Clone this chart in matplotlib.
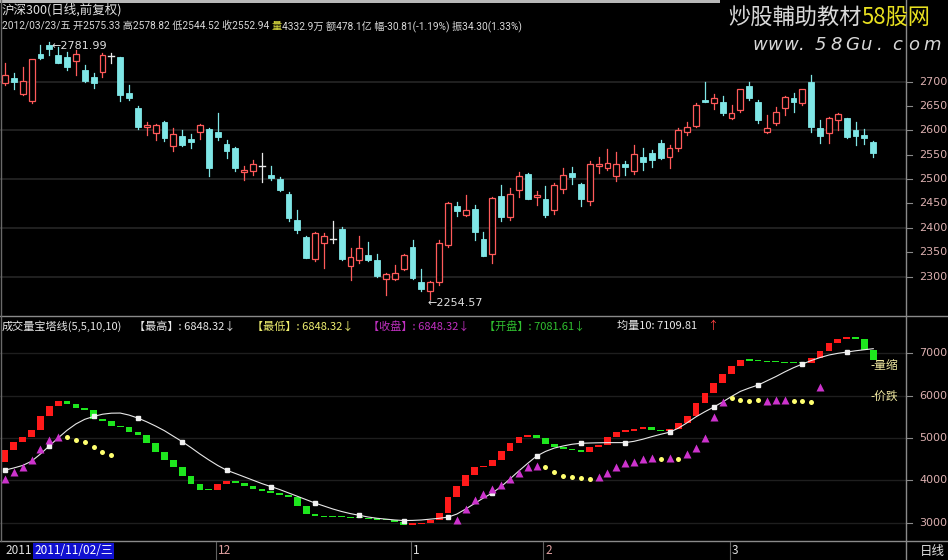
import numpy as np
import matplotlib.pyplot as plt
from matplotlib.patches import Rectangle
from matplotlib.lines import Line2D

plt.rcParams['font.family'] = ['Noto Sans CJK SC', 'DejaVu Sans']

W_PX, H_PX = 948, 560

# --- price candles: 沪深300 日线 ---
opens = [2698, 2708, 2675, 2660, 2757, 2775, 2755, 2750, 2743, 2725,
         2709, 2720, 2753, 2750, 2677, 2647, 2608, 2594, 2617, 2567,
         2588, 2582, 2597, 2603, 2597, 2572, 2563, 2515, 2517, 2527,
         2508, 2500, 2469, 2416, 2382, 2335, 2368, 2376, 2397, 2322,
         2334, 2344, 2333, 2294, 2294, 2316, 2360, 2288, 2271, 2288,
         2365, 2445, 2426, 2438, 2377, 2346, 2465, 2423, 2478, 2510,
         2463, 2459, 2437, 2479, 2512, 2490, 2456, 2526, 2522, 2506,
         2530, 2517, 2546, 2553, 2575, 2546, 2563, 2597, 2609, 2662,
         2656, 2659, 2625, 2642, 2691, 2658, 2597, 2615, 2647, 2666,
         2657, 2700, 2604, 2594, 2621, 2625, 2601, 2591, 2575.33]
highs = [2738, 2717, 2731, 2746, 2775, 2781.99, 2772, 2762, 2765, 2734,
         2717, 2758, 2758, 2751, 2693, 2650, 2618, 2614, 2620, 2604,
         2601, 2593, 2614, 2604, 2636, 2580, 2565, 2527, 2539, 2553,
         2526, 2505, 2473, 2437, 2383, 2392, 2389, 2413, 2402, 2358,
         2383, 2370, 2346, 2308, 2324, 2346, 2374, 2315, 2290, 2375,
         2452, 2454, 2467, 2447, 2392, 2464, 2488, 2481, 2515, 2512,
         2476, 2485, 2491, 2522, 2524, 2491, 2538, 2545, 2562, 2555,
         2538, 2570, 2563, 2560, 2580, 2570, 2604, 2618, 2656, 2700,
         2675, 2671, 2652, 2686, 2700, 2662, 2632, 2649, 2671, 2676,
         2686, 2714, 2621, 2628, 2636, 2626, 2618, 2602, 2578.82]
lows = [2693, 2684, 2673, 2657, 2746, 2755, 2738, 2725, 2714, 2700,
        2688, 2710, 2738, 2661, 2662, 2602, 2591, 2580, 2578, 2558,
        2567, 2563, 2582, 2507, 2580, 2543, 2517, 2498, 2508, 2495,
        2498, 2476, 2413, 2390, 2337, 2331, 2317, 2368, 2334, 2293,
        2327, 2331, 2298, 2262, 2292, 2313, 2294, 2271, 2254.57, 2283,
        2361, 2424, 2424, 2375, 2342, 2327, 2413, 2415, 2463, 2459,
        2447, 2423, 2429, 2471, 2490, 2444, 2447, 2512, 2519, 2496,
        2509, 2511, 2519, 2524, 2541, 2522, 2558, 2591, 2606, 2659,
        2643, 2632, 2623, 2638, 2662, 2616, 2595, 2611, 2632, 2638,
        2652, 2597, 2575, 2575, 2601, 2584, 2570, 2572, 2544.52]
closes = [2714, 2700, 2702, 2746, 2748, 2768, 2739, 2731, 2757, 2702,
          2698, 2755, 2753, 2673, 2666, 2608, 2611, 2612, 2584, 2592,
          2570, 2577, 2612, 2522, 2586, 2558, 2522, 2519, 2531, 2527,
          2503, 2478, 2420, 2396, 2339, 2389, 2383, 2376, 2336, 2340,
          2358, 2333, 2301, 2305, 2308, 2344, 2296, 2274, 2288, 2368,
          2450, 2435, 2437, 2392, 2343, 2462, 2422, 2470, 2506, 2460,
          2467, 2426, 2488, 2508, 2505, 2459, 2531, 2530, 2534, 2532,
          2524, 2551, 2536, 2539, 2543, 2563, 2601, 2608, 2652, 2659,
          2666, 2636, 2635, 2684, 2666, 2621, 2604, 2638, 2668, 2659,
          2684, 2606, 2589, 2626, 2633, 2586, 2589, 2585, 2552.94]

# --- 成交量宝塔线 panel ---
tower_start = 4436
tower = [4714, 4912, 5032, 5190, 5524, 5762, 5865, 5800, 5706, 5651,
         5444, 5389, 5286, 5260, 5151, 5071, 4889, 4674, 4476, 4301,
         4095, 3920, 3777, 3760, 3920, 3983, 3936, 3856, 3800, 3740,
         3690, 3640, 3600, 3400, 3200, 3150, 3140, 3130, 3120, 3110,
         3100, 3090, 3070, 3060, 3008, 2952, 2970, 3000, 3063, 3222,
         3603, 3857, 4119, 4301, 4333, 4476, 4698, 4873, 5016, 5071,
         4992, 4857, 4778, 4730, 4715, 4675, 4794, 4833, 5016, 5151,
         5175, 5206, 5254, 5190, 5170, 5200, 5349, 5524, 5825, 6060,
         6300, 6500, 6700, 6850, 6830, 6810, 6800, 6790, 6780, 6770,
         6760, 6900, 7050, 7250, 7350, 7380, 7340, 7081.61, 6848.32]
vol_ma10 = [4238, 4290, 4350, 4450, 4620, 4810, 5000, 5180, 5330, 5440,
            5507, 5560, 5585, 5588, 5540, 5469, 5380, 5280, 5170, 5040,
            4912, 4770, 4620, 4480, 4350, 4238, 4160, 4080, 4000, 3920,
            3850, 3780, 3700, 3620, 3540, 3460, 3390, 3320, 3260, 3210,
            3170, 3130, 3100, 3080, 3060, 3047, 3050, 3060, 3080, 3100,
            3127, 3200, 3320, 3450, 3580, 3698, 3850, 4030, 4220, 4400,
            4571, 4680, 4760, 4810, 4850, 4873, 4880, 4885, 4888, 4889,
            4889, 4920, 4970, 5030, 5085, 5135, 5230, 5360, 5500, 5620,
            5730, 5850, 5980, 6100, 6180, 6250, 6350, 6450, 6560, 6660,
            6747, 6830, 6900, 6960, 7000, 7030, 7060, 7085, 7109.81]
nan = np.nan
price_tower = [4040, 4198, 4317, 4476, 4730, 4952, 5031, 5016, 4952, 4897,
               4778, 4674, 4588] + [nan] * 38 + [
               3050, 3325, 3524, 3682, 3802, 3881, 4040, 4175, 4302, 4333,
               4302, 4183, 4103, 4079, 4063, 4032, 4079, 4175, 4302, 4397,
               4437, 4492, 4516, 4492, 4516, 4492, 4619, 4754, 4992, 5500,
               5850, 5950, 5900, 5880, 5900, 5880, 5900, 5900, 5880, 5870,
               5860, 6200] + [nan] * 6
price_up = [1, 1, 1, 1, 1, 1, 1, 0, 0, 0, 0, 0, 0] + [0] * 38 + [
            1, 1, 1, 1, 1, 1, 1, 1, 1, 1,
            0, 0, 0, 0, 0, 0, 1, 1, 1, 1,
            1, 1, 1, 0, 1, 0, 1, 1, 1, 1,
            1, 0, 0, 0, 0, 1, 1, 1, 0, 0,
            0, 1] + [0] * 6

# right-axis ticks
price_ticks = [2300, 2350, 2400, 2450, 2500, 2550, 2600, 2650, 2700]
price_grid = [2300, 2400, 2500, 2600, 2700]
vol_ticks = [3000, 4000, 5000, 6000, 7000]
month_labels = [(0, '2011'), (24, '12'), (46, '1'), (61, '2'), (82, '3')]


def fx(x):
    return x / W_PX


def fy(y):
    return 1 - y / H_PX


RED = '#ff5a5a'
CYAN = '#7fe6e6'
n = len(closes)
idx = np.arange(n)
xlim = (-5 / 8.86, (906 - 5) / 8.86)

fig = plt.figure(figsize=(W_PX / 100, H_PX / 100), dpi=100, facecolor='black')
renderer = fig.canvas.get_renderer()

# --------- upper panel: candles ---------
ax1 = fig.add_axes([0, fy(316), fx(906), (316 - 3) / H_PX])
ax1.set_facecolor('black')
ax1.set_xlim(*xlim)
ax1.set_ylim(2218.9, 2861.6)
ax1.axis('off')
for g in price_grid:
    ax1.axhline(g, color='#262626', lw=1.2, zorder=0)

bw = 0.66
for i in range(n):
    o, h, l, c = opens[i], highs[i], lows[i], closes[i]
    if abs(c - o) < 1e-9:
        col = '#e8e8e8'
        ax1.plot([i, i], [l, h], color=col, lw=0.9)
        ax1.plot([i - bw / 2, i + bw / 2], [c, c], color=col, lw=1.0)
    elif c > o:
        ax1.plot([i, i], [c, h], color=RED, lw=0.9)
        ax1.plot([i, i], [l, o], color=RED, lw=0.9)
        ax1.add_patch(Rectangle((i - bw / 2, o), bw, c - o, facecolor='black',
                                edgecolor=RED, lw=0.9, zorder=3))
    else:
        ax1.plot([i, i], [l, h], color=CYAN, lw=0.9)
        ax1.add_patch(Rectangle((i - bw / 2, c), bw, o - c, facecolor=CYAN,
                                edgecolor=CYAN, lw=0.6, zorder=3))

hi_i = int(np.argmax(highs))
lo_i = int(np.argmin(lows))
ax1.text(hi_i + 0.2, highs[hi_i] - 8, '\u2190' + f'{highs[hi_i]:.2f}', color='#e0e0e0',
         fontsize=8, va='center', ha='left', family='DejaVu Sans')
ax1.text(lo_i - 0.3, lows[lo_i] - 8, '\u2190' + f'{lows[lo_i]:.2f}', color='#e0e0e0',
         fontsize=8, va='center', ha='left', family='DejaVu Sans')

# --------- lower panel: 成交量宝塔线 ---------
ax2 = fig.add_axes([0, fy(541), fx(906), (541 - 318) / H_PX])
ax2.set_facecolor('black')
ax2.set_xlim(*xlim)
ax2.set_ylim(2563, 7835)
ax2.axis('off')
for g in vol_ticks:
    ax2.axhline(g, color='#1e1e1e', lw=1.0, zorder=0)

prev = tower_start
for i in range(n):
    cur = tower[i]
    col = '#ff1a1a' if cur > prev else '#1ee61e'
    lo, hi = min(prev, cur), max(prev, cur)
    ax2.add_patch(Rectangle((i - 0.38, lo), 0.76, max(hi - lo, 25), facecolor=col,
                            edgecolor='none', zorder=2))
    prev = cur

ax2.plot(idx, vol_ma10, color='#e8e8e8', lw=0.8, zorder=3)
ax2.plot(idx[::5], np.array(vol_ma10)[::5], 's', color='#f0f0f0', ms=3.2, zorder=4)

pt = np.array(price_tower, dtype=float)
up = np.array(price_up, dtype=bool)
ax2.plot(idx[up], pt[up], '^', color='#cc33cc', ms=6, mec='none', zorder=4)
ax2.plot(idx[~up], pt[~up], 'o', color='#ffff70', ms=3.6, mec='none', zorder=4)

# --------- frame lines ---------
for (x0, y0, x1, y1, c) in [(906, 0, 906, 560, '#8a8a8a'),
                            (0, 316, 948, 316, '#8a8a8a'),
                            (0, 541, 948, 541, '#8a8a8a'),
                            (1, 0, 1, 541, '#6a6a6a')]:
    fig.add_artist(Line2D([fx(x0), fx(x1)], [fy(y0), fy(y1)], color=c, lw=1.0))
fig.add_artist(Rectangle((0, fy(3)), fx(720), 3 / H_PX, transform=fig.transFigure,
                         facecolor='#b8b8b8', edgecolor='none'))

# right axis labels
AXC = '#dcb0b0'
for p in price_ticks:
    y = 81.7 + (2700 - p) * 0.487
    fig.text(fx(919), fy(y), f'{p}', color=AXC, fontsize=8, va='center', ha='left',
             family='DejaVu Sans')
    fig.add_artist(Line2D([fx(906), fx(912)], [fy(y), fy(y)], color='#8a8a8a', lw=0.8))
for v in vol_ticks:
    y = 353.3 + (7000 - v) * 0.0423
    fig.text(fx(919), fy(y), f'{v}', color=AXC, fontsize=8, va='center', ha='left',
             family='DejaVu Sans')
    fig.add_artist(Line2D([fx(906), fx(912)], [fy(y), fy(y)], color='#8a8a8a', lw=0.8))

# bottom date axis
for i, lab in month_labels:
    x = 5 + 8.86 * i
    col = '#e0a0a0' if lab in ('12', '2') else '#e0e0e0'
    if i > 0:
        fig.add_artist(Line2D([fx(x - 2), fx(x - 2)], [fy(542), fy(560)], color='#606060', lw=0.8))
    fig.text(fx(x), fy(551), lab, color=col, fontsize=8.5, va='center', ha='left')
fig.text(fx(34), fy(551), '2011/11/02/三', color='white', fontsize=8.5, va='center', ha='left',
         bbox=dict(boxstyle='square,pad=0.1', fc='#1010d0', ec='none'))
fig.text(fx(920), fy(551), '日线', color='#e0e0e0', fontsize=9, va='center', ha='left')

# header texts
fig.text(fx(2), fy(10), '沪深300(日线,前复权)', color='#e0e0e0', fontsize=9, va='center')
hdr = [('2012/03/23/五 开2575.33 高2578.82 低2544.52 收2552.94 ', '#d8d8d8'),
       ('量', '#e0e040'),
       ('4332.9万 额478.1亿 幅-30.81(-1.19%) 振34.30(1.33%)', '#d8d8d8')]
x = 2
for s, c in hdr:
    t = fig.text(fx(x), fy(26), s, color=c, fontsize=7.3, va='center',
                 family=['Roboto', 'Noto Sans CJK SC'])
    x += t.get_window_extent(renderer).width

sub = [(2, '成交量宝塔线(5,5,10,10)', '#e8e8e8'),
       (134, '【最高】: 6848.32↓', '#e8e8e8'),
       (252, '【最低】: 6848.32↓', '#f0f070'),
       (368, '【收盘】: 6848.32↓', '#c030c0'),
       (484, '【开盘】: 7081.61↓', '#30c030'),
       (617, '均量10: 7109.81', '#e8e8e8')]
for x, s, c in sub:
    fig.text(fx(x), fy(326), s, color=c, fontsize=8, va='center')
fig.text(fx(707), fy(326), '↑', color='#ff4040', fontsize=8, va='center')

fig.text(fx(870), fy(366), '-量缩', color='#f0e8a0', fontsize=8.5, va='center')
fig.text(fx(870), fy(396), '-价跌', color='#f0e8a0', fontsize=8.5, va='center')

# watermark
wm_fam = ['Noto Sans CJK TC', 'Noto Sans CJK SC']
t1 = fig.text(fx(728), fy(17), '炒股輔助教材', color='#d8d8d8', fontsize=16,
              va='center', family=wm_fam)
w1 = t1.get_window_extent(renderer).width
fig.text(fx(728 + w1), fy(17), '58股网', color='#e8e020', fontsize=16, va='center',
         family=wm_fam)
for k, ch in enumerate('www.58Gu.com'):
    fig.text(fx(752 + 15.6 * k), fy(45), ch, color='#d8d8d8', fontsize=13,
             va='center', style='italic', family='DejaVu Sans')

fig.savefig('out.png', dpi=100, facecolor='black')
